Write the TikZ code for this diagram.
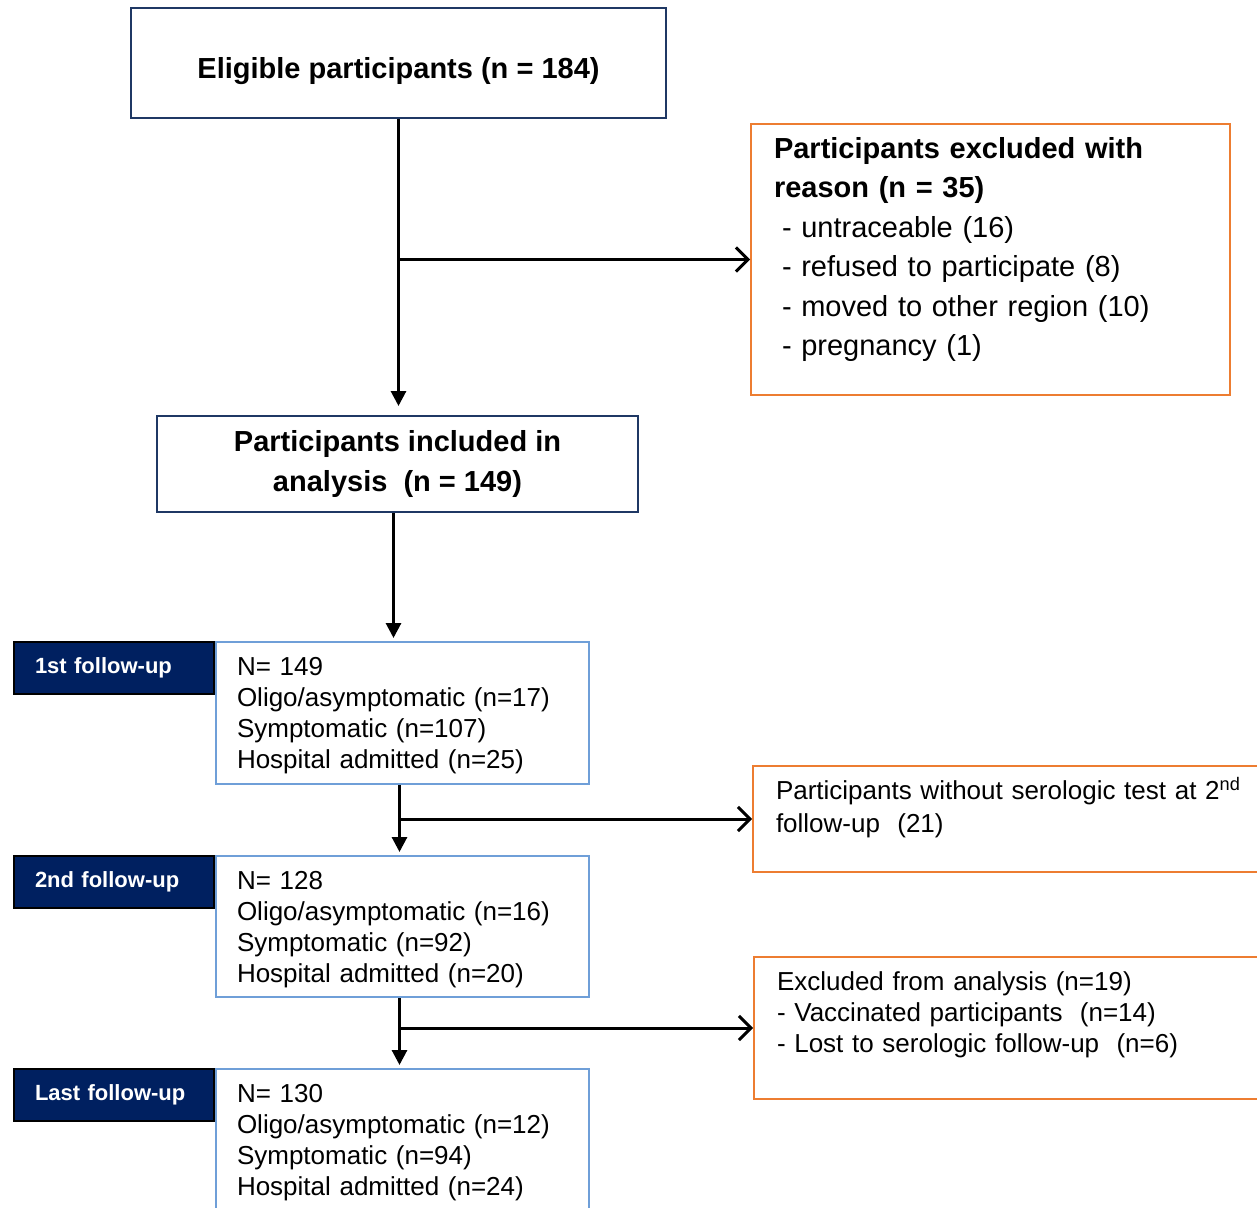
\documentclass[tikz,border=0pt]{standalone}
\usepackage{fontspec}
\setmainfont{Liberation Sans}
\usepackage{tikz}
\usetikzlibrary{arrows.meta, positioning}

\definecolor{framenavy}{HTML}{1F3864}
\definecolor{stagenavy}{HTML}{002060}
\definecolor{countblue}{HTML}{6F9FD8}
\definecolor{exclorange}{HTML}{ED7D31}

\begin{document}
\begin{tikzpicture}[
    x=0.5pt, y=-0.5pt,
    % Box styles
    basebox/.style={draw, line width=1pt, inner sep=0pt},
    mainbox/.style={basebox, draw=framenavy, align=center, font=\fontsize{14.5}{20}\selectfont\bfseries},
    countbox/.style={basebox, draw=countblue, text width=165.5pt, inner xsep=10.5pt, align=left,
                     text height=16.75pt, font=\fontsize{13}{15.5}\selectfont},
    stagebox/.style={basebox, draw=black, fill=stagenavy, text=white, minimum height=26pt, text width=79pt,
                     inner xsep=10.5pt, align=left, font=\fontsize{11}{12}\selectfont\bfseries},
    exclbox/.style={basebox, draw=exclorange, inner xsep=11.5pt, align=left},
    % Arrow styles
    mainarrow/.style={line width=1.5pt, -{Triangle[length=7.5pt, width=7.5pt]}, shorten >=1.5pt},
    sidearrow/.style={line width=1.5pt, -{Straight Barb[length=6pt, width=12pt]}},
]
\useasboundingbox (0,0) rectangle (1257,1208);
\clip (0,0) rectangle (1257,1208);

% Main flow
\node[mainbox, minimum width=267.5pt, text height=35.25pt, text depth=19.75pt] (eligible) at (398.5,63) {Eligible participants (n = 184)};
\node[mainbox, minimum width=240.5pt, minimum height=48pt] (included) at (397.5,464) {Participants included in\\analysis\ \ (n = 149)};

% Exclusion boxes
\node[exclbox, anchor=north west, text width=216.5pt, text height=17.25pt, text depth=118.25pt,
      font=\fontsize{14.5}{19.7}\selectfont] (excluded) at (750,123) {%
  \textbf{Participants excluded with}\\
  \textbf{reason (n = 35)}\\
  \hspace{4pt}- untraceable (16)\\
  \hspace{4pt}- refused to participate (8)\\
  \hspace{4pt}- moved to other region (10)\\
  \hspace{4pt}- pregnancy (1)};
\node[exclbox, anchor=north west, text width=240pt, text height=16.75pt, text depth=36.25pt,
      font=\fontsize{13}{16.5}\selectfont] (no_sero) at (752,765) {%
  Participants without serologic test at 2\textsuperscript{nd}\\
  follow-up\ \ (21)};
\node[exclbox, anchor=north west, text width=240pt, text height=16.75pt, text depth=54.25pt,
      font=\fontsize{13}{15.5}\selectfont] (excl_analysis) at (753,956) {%
  Excluded from analysis (n=19)\\
  - Vaccinated participants\ \ (n=14)\\
  - Lost to serologic follow-up\ \ (n=6)};

% Follow-up boxes
\node[countbox, anchor=north west, text depth=54.25pt] (fu_1) at (215,641) {%
  N= 149\\ Oligo/asymptomatic (n=17)\\ Symptomatic (n=107)\\ Hospital admitted (n=25)};
\node[countbox, anchor=north west, text depth=53.75pt] (fu_2) at (215,855) {%
  N= 128\\ Oligo/asymptomatic (n=16)\\ Symptomatic (n=92)\\ Hospital admitted (n=20)};
\node[countbox, anchor=north west, text depth=56.75pt] (fu_3) at (215,1068) {%
  N= 130\\ Oligo/asymptomatic (n=12)\\ Symptomatic (n=94)\\ Hospital admitted (n=24)};

% Follow-up labels
\node[stagebox, anchor=north east] (stage_1) at (fu_1.north west) {1st follow-up};
\node[stagebox, anchor=north east] (stage_2) at (fu_2.north west) {2nd follow-up};
\node[stagebox, anchor=north east] (stage_3) at (fu_3.north west) {Last follow-up};

% Connections
\draw[mainarrow, shorten >=4.5pt] (eligible.south) -- (eligible.south |- included.north);
\draw[sidearrow] (eligible.south |- excluded.west) -- (excluded.west);
\draw[mainarrow] ([xshift=-2pt]included.south) -- ([xshift=-2pt]included.south |- fu_1.north);
\draw[mainarrow] ([xshift=-1.5pt]fu_1.south) -- ([xshift=-1.5pt]fu_2.north);
\draw[sidearrow] ([xshift=-1.5pt]fu_1.south |- no_sero.west) -- (no_sero.west);
\draw[mainarrow] ([xshift=-1.5pt]fu_2.south) -- ([xshift=-1.5pt]fu_3.north);
\draw[sidearrow] ([xshift=-1.5pt]fu_2.south |- excl_analysis.west) -- (excl_analysis.west);

\end{tikzpicture}
\end{document}
